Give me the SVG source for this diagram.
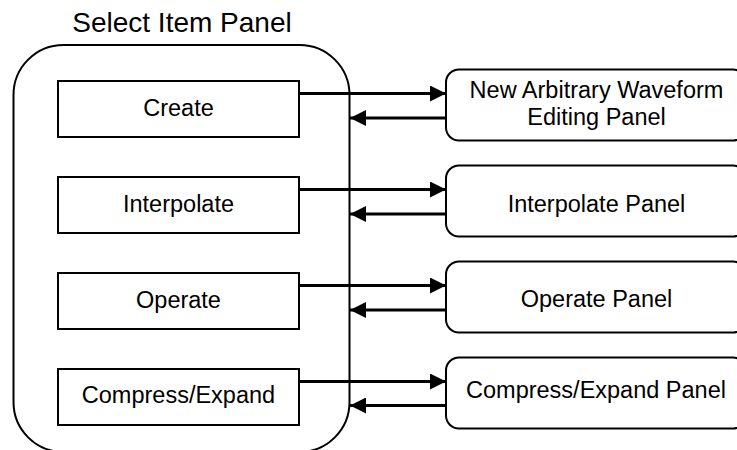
<svg xmlns="http://www.w3.org/2000/svg" width="737" height="450" viewBox="0 0 737 450">
<style>
text{font-family:"Liberation Sans",Arial,sans-serif;fill:#000;text-anchor:middle}
.lbl{font-size:23.5px}
.title{font-size:28px}
.box{fill:#fff;stroke:#000;stroke-width:2}
.panel{fill:#fff;stroke:#000;stroke-width:2}
.outer{fill:none;stroke:#000;stroke-width:2}
.conn line{stroke:#000;stroke-width:3;marker-end:url(#ah)}
</style>
<defs>
<marker id="ah" markerUnits="userSpaceOnUse" markerWidth="17" markerHeight="16" refX="16" refY="8" orient="auto">
<path d="M0,0 L16,8 L0,16 z" fill="#000"/>
</marker>
</defs>
<g id="select-item-panel">
<rect class="outer" x="13.5" y="45" width="336" height="407" rx="50" ry="50"/>
<text class="title" x="182" y="32">Select Item Panel</text>
</g>
<g id="create">
<rect class="box" x="58" y="81" width="241" height="56"/>
<text class="lbl" x="178.5" y="115.5">Create</text>
</g>
<g id="interpolate">
<rect class="box" x="58" y="177" width="241" height="56"/>
<text class="lbl" x="178.5" y="211.5">Interpolate</text>
</g>
<g id="operate">
<rect class="box" x="58" y="273" width="241" height="56"/>
<text class="lbl" x="178.5" y="307.5">Operate</text>
</g>
<g id="compress-expand">
<rect class="box" x="58" y="369" width="241" height="56"/>
<text class="lbl" x="178.5" y="403">Compress/Expand</text>
</g>
<g id="new-arb-panel">
<rect class="panel" x="446" y="69.5" width="300" height="71" rx="13" ry="13"/>
<text class="lbl" x="596.5" y="97.5">New Arbitrary Waveform</text>
<text class="lbl" x="596.5" y="125">Editing Panel</text>
</g>
<g id="interpolate-panel">
<rect class="panel" x="446" y="165.5" width="300" height="71" rx="13" ry="13"/>
<text class="lbl" x="596.5" y="212">Interpolate Panel</text>
</g>
<g id="operate-panel">
<rect class="panel" x="446" y="261.5" width="300" height="71" rx="13" ry="13"/>
<text class="lbl" x="596.5" y="307">Operate Panel</text>
</g>
<g id="compress-expand-panel">
<rect class="panel" x="446" y="357.5" width="300" height="71" rx="13" ry="13"/>
<text class="lbl" x="596" y="397.5">Compress/Expand Panel</text>
</g>
<g id="connectors" class="conn">
<line x1="300" y1="93.5" x2="446" y2="93.5"/>
<line x1="446" y1="118" x2="350" y2="118"/>
<line x1="300" y1="189.5" x2="446" y2="189.5"/>
<line x1="446" y1="214" x2="350" y2="214"/>
<line x1="300" y1="285.5" x2="446" y2="285.5"/>
<line x1="446" y1="310" x2="350" y2="310"/>
<line x1="300" y1="381.5" x2="446" y2="381.5"/>
<line x1="446" y1="405.5" x2="350" y2="405.5"/>
</g>
</svg>
